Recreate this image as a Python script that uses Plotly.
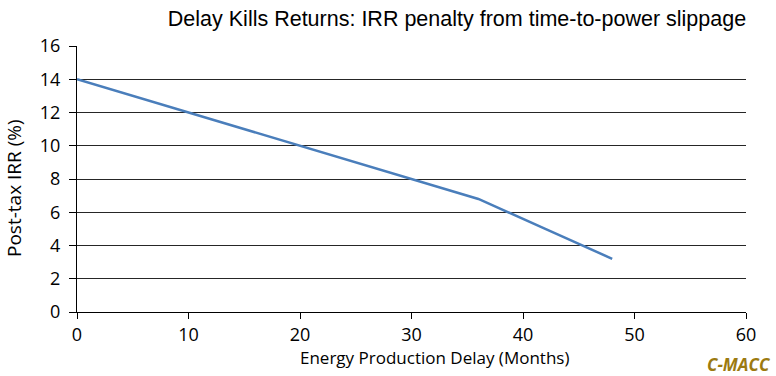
import plotly.graph_objects as go

delay_months = [0, 6, 12, 18, 24, 30, 36, 42, 48]
post_tax_irr = [14.0, 12.8, 11.6, 10.4, 9.2, 8.0, 6.8, 5.0, 3.2]
x_ticks = [0, 10, 20, 30, 40, 50, 60]
y_ticks = [0, 2, 4, 6, 8, 10, 12, 14, 16]

W, H = 776, 376
L, R, T, B = 77, 30, 46, 64
PW, PH = W - L - R, H - T - B


def px(sx):
    return (sx - L) / PW


def py(sy):
    return (H - B - sy) / PH


fig = go.Figure()
fig.add_trace(go.Scatter(
    x=delay_months, y=post_tax_irr, mode="lines",
    line=dict(color="#4A7EBB", width=2.5), showlegend=False,
    hoverinfo="x+y"))

sans = "Open Sans, Noto Sans, sans-serif"
tickfont = dict(family=sans, size=18, color="#000000")

fig.update_layout(
    width=W, height=H,
    margin=dict(l=L, r=R, t=T, b=B, pad=0),
    paper_bgcolor="white", plot_bgcolor="white",
    title=dict(text="Delay Kills Returns: IRR penalty from time-to-power slippage",
               x=457 / W, xanchor="center", xref="container",
               y=1 - 18 / H, yanchor="middle", yref="container",
               font=dict(family="Liberation Sans, Arial, sans-serif", size=21.5, color="#000000")),
    xaxis=dict(range=[0, 60], tickvals=x_ticks, ticks="outside", ticklen=6,
               tickcolor="#000000", tickwidth=1, showline=True, linecolor="#000000",
               linewidth=1, showgrid=False, zeroline=False, tickfont=tickfont,
               fixedrange=True),
    yaxis=dict(range=[0, 16], tickvals=y_ticks, ticks="outside", ticklen=7,
               tickcolor="#000000", tickwidth=1, showline=True, linecolor="#000000",
               linewidth=1, showgrid=True, gridcolor="#262626", gridwidth=1,
               zeroline=False, tickfont=tickfont, ticklabelstandoff=5, fixedrange=True),
    annotations=[
        dict(text="Energy Production Delay (Months)", xref="paper", yref="paper",
             x=px(435), y=py(357), xanchor="center", yanchor="middle", showarrow=False,
             font=dict(family=sans, size=17, color="#000000")),
        dict(text="Post-tax IRR (%)", xref="paper", yref="paper",
             x=px(14), y=py(188), xanchor="center", yanchor="middle", textangle=-90,
             showarrow=False, font=dict(family=sans, size=19, color="#000000")),
        dict(text="<b><i>C-MACC</i></b>", xref="paper", yref="paper",
             x=px(739), y=py(364), xanchor="center", yanchor="middle", showarrow=False,
             font=dict(family=sans, size=17, color="#9C7A10")),
    ],
)

fig.write_html("out.html", config={"displayModeBar": False},
               post_script="document.body.style.margin='0';document.body.style.overflow='hidden';")
